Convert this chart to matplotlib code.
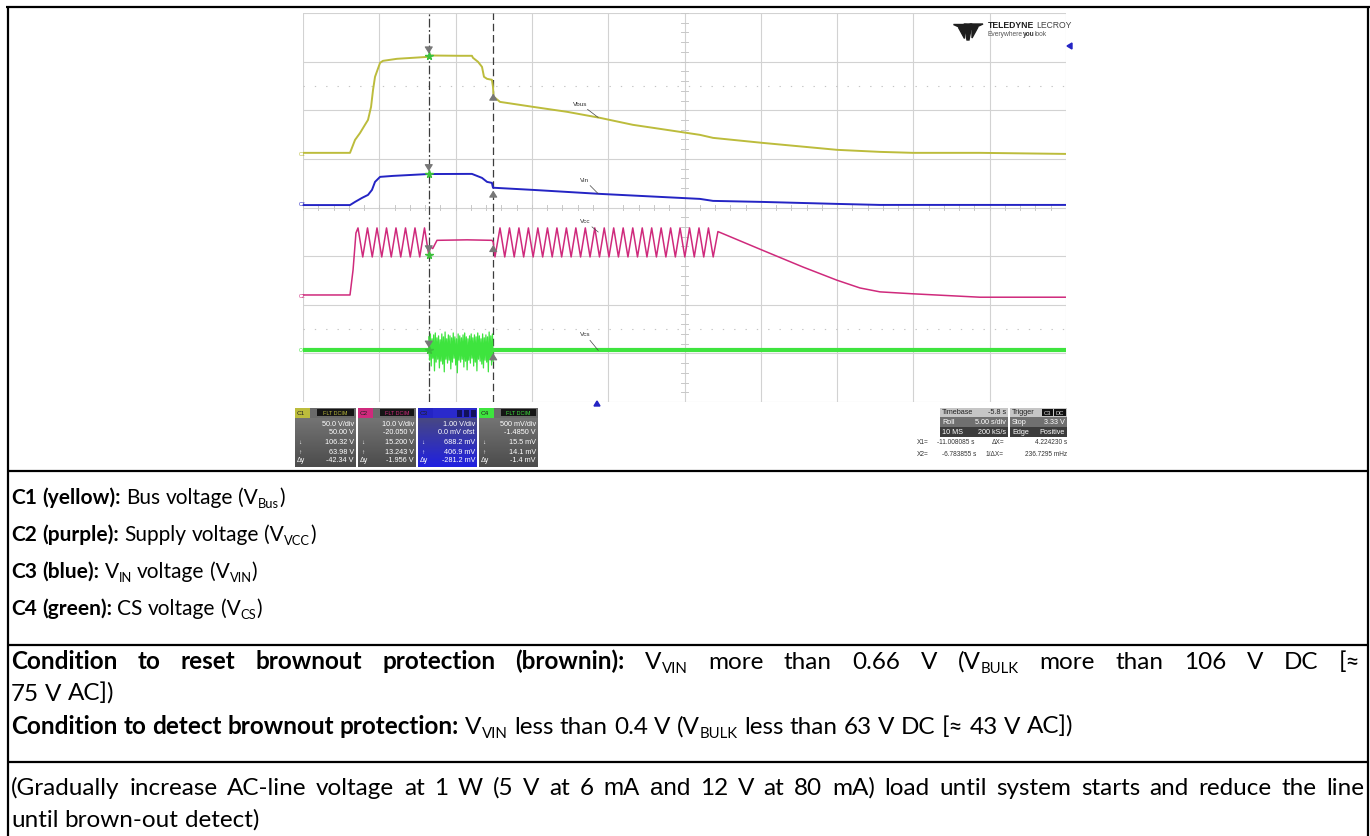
import re
import numpy as np
import matplotlib
matplotlib.use("Agg")
import matplotlib.pyplot as plt
from matplotlib.patches import Rectangle, Polygon
from matplotlib.lines import Line2D
from matplotlib.colors import LinearSegmentedColormap

W, H, DPI = 1370, 836, 100

# ---------------- scope settings ----------------
sec_per_div = 5.0
n_xdiv, n_ydiv = 10, 8
t_start = -19.25
volts_per_div = {"C1": 50.0, "C2": 10.0, "C3": 1.0, "C4": 0.5}
offsets = {"C1": 50.0, "C2": -20.05, "C3": 0.0, "C4": -1.485}
x1_time = -11.008085
x2_time = -6.783855

# ---------------- traces (time in s, value in V) ----------------
vbus_t = [-19.25, -16.17, -15.84, -15.51, -15.19, -14.99, -14.79, -14.66, -14.53, -14.20,
          -14.01, -13.09, -11.06, -10.93, -8.96, -8.18, -8.11, -7.78, -7.52, -7.39,
          -7.19, -6.87, -6.80, -6.76, -6.34, -4.18, -1.95, 0.21, 2.37, 4.60,
          6.76, 7.62, 10.83, 15.74, 18.56, 20.72, 25.11, 30.75]
vbus_v = [6.2, 6.2, 19.5, 26.7, 35.0, 40.1, 53.5, 71.0, 84.4, 98.8,
          100.8, 102.9, 104.9, 106.3, 106.0, 106.0, 103.9, 99.8, 94.6, 84.4,
          82.3, 81.3, 74.1, 64.0, 58.6, 53.5, 48.4, 42.2, 35.0, 29.8,
          24.7, 21.6, 16.5, 9.3, 7.2, 6.2, 6.2, 5.1]

vin_t = [-19.25, -16.17, -15.84, -15.38, -14.99, -14.73, -14.53, -14.20, -13.35, -11.06,
         -8.44, -8.18, -7.85, -7.52, -7.19, -6.87, -6.80, -4.18, 0.21, 6.76,
         7.62, 10.83, 15.74, 18.56, 30.75]
vin_v = [0.05, 0.05, 0.115, 0.198, 0.259, 0.362, 0.527, 0.630, 0.650, 0.688,
         0.691, 0.691, 0.650, 0.609, 0.527, 0.506, 0.407, 0.362, 0.280, 0.177,
         0.136, 0.115, 0.074, 0.053, 0.053]

vcc_points = [
    (-19.25, 2.06), (-16.17, 2.06), (-15.97, 7.2), (-15.78, 14.8), (-15.646, 15.85),
    (-15.335, 9.88), (-15.023, 15.85), (-14.712, 9.88), (-14.401, 15.85), (-14.090, 9.88),
    (-13.778, 15.85), (-13.467, 9.88), (-13.156, 15.85), (-12.845, 9.88), (-12.533, 15.85),
    (-12.222, 9.88), (-11.911, 15.85), (-11.600, 9.88), (-11.288, 15.85), (-10.99, 9.88),
    (-10.93, 12.0), (-10.75, 11.6), (-10.47, 13.3), (-8.50, 13.4), (-6.86, 13.3),
    (-6.78, 12.9), (-6.67, 9.88),
    (-6.34, 15.85), (-6.03, 9.88), (-5.72, 15.85), (-5.41, 9.88), (-5.10, 15.85),
    (-4.79, 9.88), (-4.48, 15.85), (-4.17, 9.88), (-3.86, 15.85), (-3.545, 9.88),
    (-3.23, 15.85), (-2.92, 9.88), (-2.61, 15.85), (-2.30, 9.88), (-1.99, 15.85),
    (-1.68, 9.88), (-1.37, 15.85), (-1.06, 9.88), (-0.75, 15.85), (-0.44, 9.88),
    (-0.13, 15.85), (0.18, 9.88), (0.49, 15.85), (0.80, 9.88), (1.11, 15.85),
    (1.42, 9.88), (1.73, 15.85), (2.045, 9.88), (2.36, 15.85), (2.67, 9.88),
    (2.98, 15.85), (3.29, 9.88), (3.60, 15.85), (3.91, 9.88), (4.22, 15.85),
    (4.53, 9.88), (4.84, 15.85), (5.15, 9.88), (5.46, 15.85), (5.77, 9.88),
    (6.08, 15.85), (6.39, 9.88), (6.70, 15.85), (7.01, 9.88), (7.32, 15.85),
    (7.63, 9.88), (7.94, 15.1),
    (10.83, 11.3), (13.52, 7.8), (15.74, 5.1), (17.25, 3.5), (18.56, 2.7),
    (20.72, 2.3), (25.11, 1.6), (30.75, 1.6)]
vcc_t = [p[0] for p in vcc_points]
vcc_v = [p[1] for p in vcc_points]

vcs_t = [-19.25, 30.75]
vcs_v = [0.015, 0.015]
vcs_burst = [0.14, -0.10, 0.17, -0.16, 0.12, -0.08, 0.16, -0.21, 0.18, -0.12,
             0.13, -0.09, 0.15, -0.18, 0.11, -0.11, 0.17, -0.14, 0.14, -0.22,
             0.19, -0.09, 0.12, -0.13, 0.16, -0.10, 0.15, -0.19, 0.13, -0.12,
             0.18, -0.08, 0.14, -0.15, 0.12, -0.23, 0.17, -0.10, 0.15, -0.12,
             0.13, -0.09, 0.16, -0.17, 0.18, -0.11, 0.14, -0.20, 0.12, -0.10,
             0.15, -0.13, 0.17, -0.08, 0.13, -0.16, 0.16, -0.12, 0.14, -0.21,
             0.18, -0.09, 0.15, -0.11, 0.12, -0.14, 0.17, -0.18, 0.13, -0.10,
             0.16, -0.12, 0.14, -0.22, 0.19, -0.09, 0.15, -0.15, 0.17, -0.11]

# ---------------- readout texts ----------------
panel_names = ["C1", "C2", "C3", "C4"]
panel_vdiv = ["50.0 V/div", "10.0 V/div", "1.00 V/div", "500 mV/div"]
panel_ofs = ["50.00 V", "-20.050 V", "0.0 mV ofst", "-1.4850 V"]
panel_y1 = ["106.32 V", "15.200 V", "688.2 mV", "15.5 mV"]
panel_y2 = ["63.98 V", "13.243 V", "406.9 mV", "14.1 mV"]
panel_dy = ["-42.34 V", "-1.956 V", "-281.2 mV", "-1.4 mV"]

trace_colors = {"C1": "#bcbc3c", "C2": "#cf2a7c", "C3": "#2424c4", "C4": "#3ee43e"}
trace_names = {"C1": "Vbus", "C2": "Vcc", "C3": "Vin", "C4": "Vcs"}

FAM = ["Lato", "DejaVu Sans"]
ALT = ["Liberation Sans", "DejaVu Sans"]
SFAM = ["Liberation Sans", "DejaVu Sans"]

fig = plt.figure(figsize=(W / DPI, H / DPI), dpi=DPI)
fig.patch.set_facecolor("white")
renderer = fig.canvas.get_renderer()


def fx(x):
    return x / W


def fy(y):
    return 1 - y / H


def fline(xs, ys, lw=1.45, color="black", **kw):
    fig.add_artist(Line2D([fx(v) for v in xs], [fy(v) for v in ys], lw=lw,
                          color=color, solid_capstyle="butt", **kw))


def frect(x0, y0, x1, y1, color, z=1):
    fig.add_artist(Rectangle((fx(x0), fy(y1)), fx(x1) - fx(x0), fy(y0) - fy(y1),
                             facecolor=color, edgecolor="none", zorder=z))


def ftext(x, y, s, size=5.2, color="white", ha="left", va="center", **kw):
    return fig.text(fx(x), fy(y), s, fontsize=size, color=color, ha=ha, va=va,
                    family=kw.pop("family", SFAM), **kw)


def grad_box(x0, y0, x1, y1, ctop, cbot):
    a = fig.add_axes([fx(x0), fy(y1), fx(x1) - fx(x0), fy(y0) - fy(y1)])
    a.axis("off")
    cm = LinearSegmentedColormap.from_list("g", [ctop, cbot])
    a.imshow(np.linspace(0, 1, 64).reshape(-1, 1), aspect="auto", cmap=cm,
             interpolation="bilinear")


# ---------------- table frame ----------------
fline([6, 1370], [7, 7], lw=1.6)
fline([8, 8], [6, 836], lw=1.6)
fline([1368, 1368], [6, 836], lw=1.6)
for yy in (471, 645, 762):
    fline([8, 1368], [yy, yy], lw=1.6)

# ---------------- scope grid ----------------
GX0, GX1, GY0, GY1 = 303, 1066, 13, 402
rect = [fx(GX0), fy(GY1), fx(GX1) - fx(GX0), fy(GY0) - fy(GY1)]
ax = fig.add_axes(rect)
t_end = t_start + n_xdiv * sec_per_div
ax.set_xlim(t_start, t_end)
ax.set_ylim(0, n_ydiv)
ax.axis("off")
for i in range(n_xdiv + 1):
    ax.axvline(t_start + i * sec_per_div, color="#d2d2d2", lw=0.8, zorder=1)
for j in range(n_ydiv + 1):
    ax.axhline(j, color="#d2d2d2", lw=0.8, zorder=1)
t_mid = t_start + n_xdiv * sec_per_div / 2
for k in range(n_xdiv * 5 + 1):
    tt = t_start + k * sec_per_div / 5
    ax.plot([tt, tt], [n_ydiv / 2 - 0.06, n_ydiv / 2 + 0.06], color="#c8c8c8", lw=0.7, zorder=1)
for k in range(n_ydiv * 5 + 1):
    ax.plot([t_mid - 0.2, t_mid + 0.2], [k * 0.2, k * 0.2], color="#c8c8c8", lw=0.7, zorder=1)
for yy in (6.5, 1.5):
    ax.axhline(yy, color="#c4c4c4", lw=0.8, ls=(0, (1.2, 9)), zorder=1)

# cursors
ax.axvline(x1_time, color="#3c3c3c", lw=0.9, ls=(0, (7, 2, 1.5, 2)), zorder=2)
ax.axvline(x2_time, color="#3c3c3c", lw=0.9, ls=(0, (6, 3)), zorder=2)


def chan_axes(ch):
    a = fig.add_axes(rect)
    vd, off = volts_per_div[ch], offsets[ch]
    a.set_xlim(t_start, t_end)
    a.set_ylim(-n_ydiv / 2 * vd - off, n_ydiv / 2 * vd - off)
    a.axis("off")
    a.patch.set_alpha(0)
    return a


a1 = chan_axes("C1")
a1.plot(vbus_t, vbus_v, color=trace_colors["C1"], lw=1.4, zorder=3)
a3 = chan_axes("C3")
a3.plot(vin_t, vin_v, color=trace_colors["C3"], lw=1.4, zorder=3)
a2 = chan_axes("C2")
a2.plot(vcc_t, vcc_v, color=trace_colors["C2"], lw=1.1, zorder=3)
a4 = chan_axes("C4")
a4.plot(vcs_t, vcs_v, color=trace_colors["C4"], lw=3.0, zorder=3, solid_capstyle="butt")
bt = np.linspace(x1_time, x2_time, len(vcs_burst))
a4.plot(bt, np.array(vcs_burst) + vcs_v[0], color=trace_colors["C4"], lw=0.9, zorder=3)

# cursor markers and trace labels
for a, ts, vs in ((a1, vbus_t, vbus_v), (a3, vin_t, vin_v), (a2, vcc_t, vcc_v), (a4, vcs_t, vcs_v)):
    v1 = np.interp(x1_time, ts, vs)
    v2 = np.interp(x2_time, ts, vs)
    a.plot([x1_time], [v1], marker="*", color="#3cc03c", ms=5.5, zorder=5)
    a.annotate("", xy=(x1_time, v1), xytext=(0, 10), textcoords="offset pixels",
               arrowprops=dict(arrowstyle="-|>,head_width=0.25,head_length=0.4",
                               color="#777777", lw=0.8), zorder=5)
    a.annotate("", xy=(x2_time, v2), xytext=(0, -12), textcoords="offset pixels",
               arrowprops=dict(arrowstyle="-|>,head_width=0.25,head_length=0.4",
                               color="#777777", lw=0.8), zorder=5)

label_time = 0.1
for a, ch, ts, vs, dx, dy in ((a1, "C1", vbus_t, vbus_v, -25, 11), (a3, "C3", vin_t, vin_v, -18, 11),
                              (a2, "C2", vcc_t, vcc_v, -18, 8), (a4, "C4", vcs_t, vcs_v, -18, 13)):
    lv = np.interp(label_time, ts, vs) if ch != "C2" else 15.0
    a.annotate(trace_names[ch], xy=(label_time, lv), xytext=(dx, dy), textcoords="offset pixels",
               fontsize=4.6, color="#333333", family=SFAM, ha="left", va="bottom",
               arrowprops=dict(arrowstyle="-", color="#444444", lw=0.5, shrinkA=0, shrinkB=0),
               zorder=6)

# channel ground markers on the left edge
for ch, yy in (("C1", 155), ("C3", 205), ("C2", 297), ("C4", 350)):
    ftext(GX0 - 4, yy, ch, size=3.8, color=trace_colors[ch], ha="left")

# trigger markers
fig.add_artist(Polygon([(fx(1067), fy(46)), (fx(1072), fy(43)), (fx(1072), fy(49))],
                       closed=True, color="#2424c4"))
fig.add_artist(Polygon([(fx(597), fy(401)), (fx(594), fy(406)), (fx(600), fy(406))],
                       closed=True, color="#2424c4"))

# logo
fig.add_artist(Polygon([(fx(953), fy(24)), (fx(966), fy(24)), (fx(966), fy(30))], closed=True, color="#1e1e1e"))
fig.add_artist(Polygon([(fx(970), fy(24)), (fx(983), fy(24)), (fx(970), fy(30))], closed=True, color="#1e1e1e"))
fig.add_artist(Polygon([(fx(964), fy(24)), (fx(972), fy(24)), (fx(969), fy(40)), (fx(967), fy(40))],
                       closed=True, color="#1e1e1e"))
fig.add_artist(Polygon([(fx(958), fy(27)), (fx(964), fy(27)), (fx(964), fy(38))], closed=True, color="#1e1e1e"))
fig.add_artist(Polygon([(fx(972), fy(27)), (fx(978), fy(27)), (fx(972), fy(38))], closed=True, color="#1e1e1e"))
tl = ftext(988, 26, "TELEDYNE", size=6.2, color="#1e1e1e", fontweight="bold")
wl = tl.get_window_extent(renderer).width
ftext(988 + wl + 2, 26, "LECROY", size=6.2, color="#444444")
te = ftext(988, 34, "Everywhere", size=4.8, color="#555555")
we = te.get_window_extent(renderer).width
ty = ftext(988 + we, 34, "you", size=4.8, color="#333333", fontweight="bold")
wy = ty.get_window_extent(renderer).width
ftext(988 + we + wy, 34, "look", size=4.8, color="#555555")

# ---------------- channel readout panels ----------------
panel_x = [(295, 356), (358, 416), (418, 477), (479, 538)]
rows_y = [424, 433, 442, 452, 461]
for i, ch in enumerate(panel_names):
    x0, x1 = panel_x[i]
    if ch == "C3":
        grad_box(x0, 408, x1, 467, "#505070", "#2020e0")
        frect(x0, 408, x1, 418, "#2a2acc", z=1)
    else:
        grad_box(x0, 408, x1, 467, "#7c7c7c", "#4c4c4c")
        frect(x0, 408, x1, 418, "#6a6a6a", z=1)
    frect(x0, 408, x0 + 15, 418, trace_colors[ch], z=2)
    ftext(x0 + 1.5, 413, ch, size=4.6, color="#202020")
    if ch == "C3":
        for bx in (x1 - 20, x1 - 13, x1 - 6):
            frect(bx, 410, bx + 5, 417, "#12125a", z=2)
    else:
        frect(x0 + 22, 409.5, x1 - 2, 416.5, "#151515", z=2)
        ftext((x0 + 22 + x1 - 2) / 2, 413, "FLT DCIM", size=3.9, color=trace_colors[ch], ha="center")
    vals = [panel_vdiv[i], panel_ofs[i], panel_y1[i], panel_y2[i], panel_dy[i]]
    for yy, s in zip(rows_y, vals):
        ftext(x1 - 2, yy, s, ha="right")
    ftext(x0 + 3, rows_y[2], "\u2193", size=4.6)
    ftext(x0 + 3, rows_y[3], "\u2191", size=4.6)
    ftext(x0 + 2, rows_y[4], "\u0394y", size=5.0)

# timebase / trigger panels
tb_rows = [(408, 417, "#c6c6c6", "#222222"), (417, 427, "#707070", "white"), (427, 437, "#3c3c3c", "white")]
tb_left = [("Timebase", "-5.8 s"), ("Roll", "5.00 s/div"), ("10 MS", "200 kS/s")]
tr_left = [("Trigger", ""), ("Stop", "3.33 V"), ("Edge", "Positive")]
for (y0, y1, bg, fg), (l1, r1), (l2, r2) in zip(tb_rows, tb_left, tr_left):
    frect(940, y0, 1008, y1, bg)
    frect(1010, y0, 1067, y1, bg)
    ym = (y0 + y1) / 2
    ftext(942, ym, l1, color=fg)
    ftext(1006, ym, r1, color=fg, ha="right")
    ftext(1012, ym, l2, color=fg)
    if r2:
        ftext(1065, ym, r2, color=fg, ha="right")
frect(1042, 409.5, 1053, 416, "#111111", z=2)
frect(1054, 409.5, 1066, 416, "#111111", z=2)
ftext(1047.5, 413, "C3", size=4.2, color="#dddddd", ha="center")
ftext(1060, 413, "DC", size=4.2, color="#dddddd", ha="center")

CS = 4.7
ftext(917, 443, "X1=", color="#333333", size=CS)
ftext(974, 443, "-11.008085 s", color="#333333", ha="right", size=CS)
ftext(1004, 443, "\u0394X=", color="#333333", ha="right", size=CS)
ftext(1067, 443, "4.224230 s", color="#333333", ha="right", size=CS)
ftext(917, 454, "X2=", color="#333333", size=CS)
ftext(976, 454, "-6.783855 s", color="#333333", ha="right", size=CS)
ftext(1004, 454, "1/\u0394X=", color="#333333", ha="right", size=CS)
ftext(1067, 454, "236.7295 mHz", color="#333333", ha="right", size=CS)


# ---------------- text rows of the table ----------------
def text_w(s, **kw):
    t = fig.text(0, 0, s, **kw)
    w = t.get_window_extent(renderer).width
    t.remove()
    return w


def style(kind, size):
    kw = dict(fontsize=size, family=FAM, fontweight="normal", color="black")
    dy = 0
    if kind == "b":
        kw["fontweight"] = "bold"
    elif kind == "s":
        kw["fontsize"] = size * 0.62
        dy = size * 0.24
    elif kind == "a":
        kw["family"] = ALT
    return kw, dy


def rich_line(x, y, segs, size, justify_to=None):
    tokens = []
    for s, kind in segs:
        kw, dy = style(kind, size)
        sp = text_w("a a", **kw) - text_w("aa", **kw)
        for p in re.split("( )", s):
            if p == "":
                continue
            if p == " ":
                tokens.append((None, kw, dy, sp))
            else:
                tokens.append((p, kw, dy, text_w(p, **kw)))
    extra = 0.0
    if justify_to is not None:
        natural = sum(t[3] for t in tokens)
        nsp = sum(1 for t in tokens if t[0] is None)
        extra = max(0.0, (justify_to - x - natural) / max(nsp, 1))
    cx = x
    for word, kw, dy, w in tokens:
        if word is None:
            cx += w + extra
        else:
            fig.text(fx(cx), fy(y + dy), word, ha="left", va="baseline", **kw)
            cx += w


S1 = 15.0
S2 = 17.5
lines = [
    (504, S1, None, [("C1 (yellow):", "b"), (" Bus voltage (V", "n"), ("Bus", "s"), (")", "n")]),
    (541, S1, None, [("C2 (purple):", "b"), (" Supply voltage (V", "n"), ("VCC", "s"), (")", "n")]),
    (578, S1, None, [("C3 (blue):", "b"), (" V", "n"), ("IN", "s"), (" voltage (V", "n"), ("VIN", "s"), (")", "n")]),
    (615, S1, None, [("C4 (green):", "b"), (" CS voltage (V", "n"), ("CS", "s"), (")", "n")]),
    (669, S2, 1360, [("Condition to reset brownout protection (brownin):", "b"), (" V", "n"), ("VIN", "s"),
                     (" more than 0.66 V (V", "n"), ("BULK", "s"), (" more than 106 V DC [\u2248", "n")]),
    (701, S2, None, [("75 V AC])", "n")]),
    (734, S2, None, [("Condition to detect brownout protection:", "b"), (" V", "n"), ("VIN", "s"),
                     (" less than 0.4 V (V", "n"), ("BULK", "s"), (" less than 63 V DC [\u2248 43 V AC])", "n")]),
    (795, S2, 1364, [("(Gradually increase AC-line voltage at 1 W (5 V at 6 ", "n"), ("mA and", "a"),
                     (" 12 V at 80 mA) load until system starts and reduce the line", "n")]),
    (827, S2, None, [("until brown-out detect)", "n")]),
]
for yy, size, just, segs in lines:
    rich_line(11, yy, segs, size, just)

fig.savefig("out.png", dpi=DPI, facecolor="white")
